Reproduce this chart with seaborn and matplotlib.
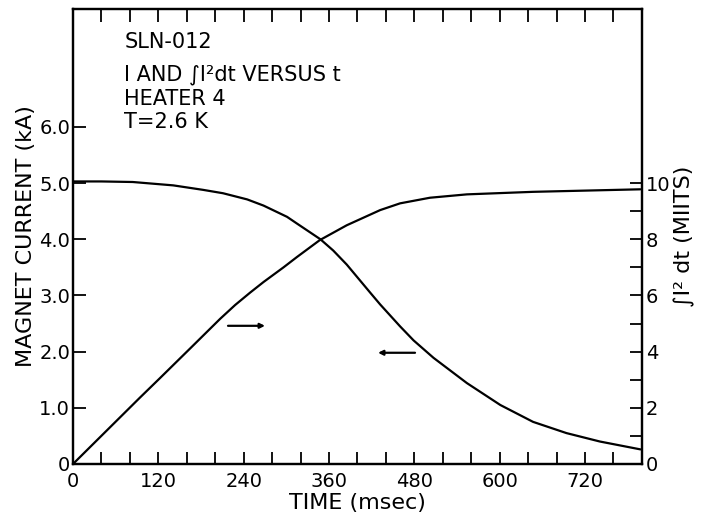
import matplotlib
matplotlib.use('Agg')
import matplotlib.pyplot as plt
import numpy as np
import pandas as pd
import seaborn as sns

# magnet current (kA)
t_current = [0, 40, 84, 141, 183, 211, 245, 268, 301, 315, 348, 366, 385, 418, 432, 460, 479, 507,
             554, 601, 647, 694, 741, 798]
current_ka = [5.03, 5.03, 5.02, 4.96, 4.88, 4.82, 4.71, 4.60, 4.40, 4.28, 4.00, 3.80, 3.55, 3.05, 2.84, 2.45, 2.20, 1.89,
              1.44, 1.05, 0.75, 0.55, 0.40, 0.26]

# integral of I^2 dt (MIITS)
t_miits = [0, 47, 94, 122, 165, 207, 228, 249, 268, 296, 315, 347, 385, 432, 460, 502, 554, 647, 798]
miits = [0, 1.18, 2.36, 3.05, 4.12, 5.17, 5.66, 6.10, 6.48, 7.0, 7.37, 7.97, 8.5, 9.04, 9.28, 9.48, 9.60, 9.69, 9.78]

x_ticks = list(range(0, 801, 40))
x_labels = [str(v) if v % 120 == 0 else '' for v in x_ticks]
left_ticks = [0, 1, 2, 3, 4, 5, 6]
left_labels = ['0', '1.0', '2.0', '3.0', '4.0', '5.0', '6.0']
right_ticks = list(range(0, 11))
right_labels = [str(v) if v % 2 == 0 else '' for v in right_ticks]

df_i = pd.DataFrame({'t': t_current, 'I': current_ka})
df_q = pd.DataFrame({'t': t_miits, 'Q': miits})

sns.set_style('white')
plt.rcParams['font.family'] = ['DejaVu Sans']
plt.rcParams['text.color'] = 'black'
plt.rcParams['axes.labelcolor'] = 'black'
plt.rcParams['xtick.color'] = 'black'
plt.rcParams['ytick.color'] = 'black'

fig = plt.figure(figsize=(7.04, 5.14), dpi=100)
ax = fig.add_axes([0.1037, 0.0973, 0.808, 0.8852])
ax2 = ax.twinx()

line_kw = dict(color='black', linewidth=1.6, solid_joinstyle='round', solid_capstyle='round')
sns.lineplot(df_i, x='t', y='I', ax=ax, **line_kw)
sns.lineplot(df_q, x='t', y='Q', ax=ax2, **line_kw)

ax.set_xlim(0, 800)
ax.set_ylim(0, 8.1)
ax2.set_ylim(0, 16.2)

ax.set_xticks(x_ticks)
ax.set_xticklabels(x_labels, fontsize=14)
ax.set_yticks(left_ticks)
ax.set_yticklabels(left_labels, fontsize=14)
ax2.set_yticks(right_ticks)
ax2.set_yticklabels(right_labels, fontsize=14)

ax.tick_params(axis='x', direction='in', length=9, width=1.3, top=True, bottom=True, pad=6)
ax.tick_params(axis='y', direction='in', length=9, width=1.3, left=True, pad=2)
ax2.tick_params(axis='y', direction='in', length=9, width=1.3, right=True, pad=3)

for a in (ax, ax2):
    for s in a.spines.values():
        s.set_color('black')
        s.set_linewidth(1.6)

ax.set_xlabel('TIME (msec)', fontsize=16, labelpad=1)
ax.set_ylabel('MAGNET CURRENT (kA)', fontsize=16, labelpad=2)
ax2.set_ylabel('∫I² dt (MIITS)', fontsize=16, labelpad=2)

txt = dict(transform=ax.transAxes, fontsize=15, ha='left', va='center')
ax.text(0.09, 0.927, 'SLN-012', **txt)
ax.text(0.09, 0.855, 'I AND ∫I²dt VERSUS t', **txt)
ax.text(0.09, 0.802, 'HEATER 4', **txt)
ax.text(0.09, 0.752, 'T=2.6 K', **txt)

arrow = dict(arrowstyle='-|>', color='black', lw=1.6, mutation_scale=7, shrinkA=0, shrinkB=0)
ax.annotate('', xy=(270, 2.46), xytext=(218, 2.46), arrowprops=arrow)
ax.annotate('', xy=(429, 1.98), xytext=(481, 1.98), arrowprops=arrow)

fig.savefig('out.png', dpi=100)
